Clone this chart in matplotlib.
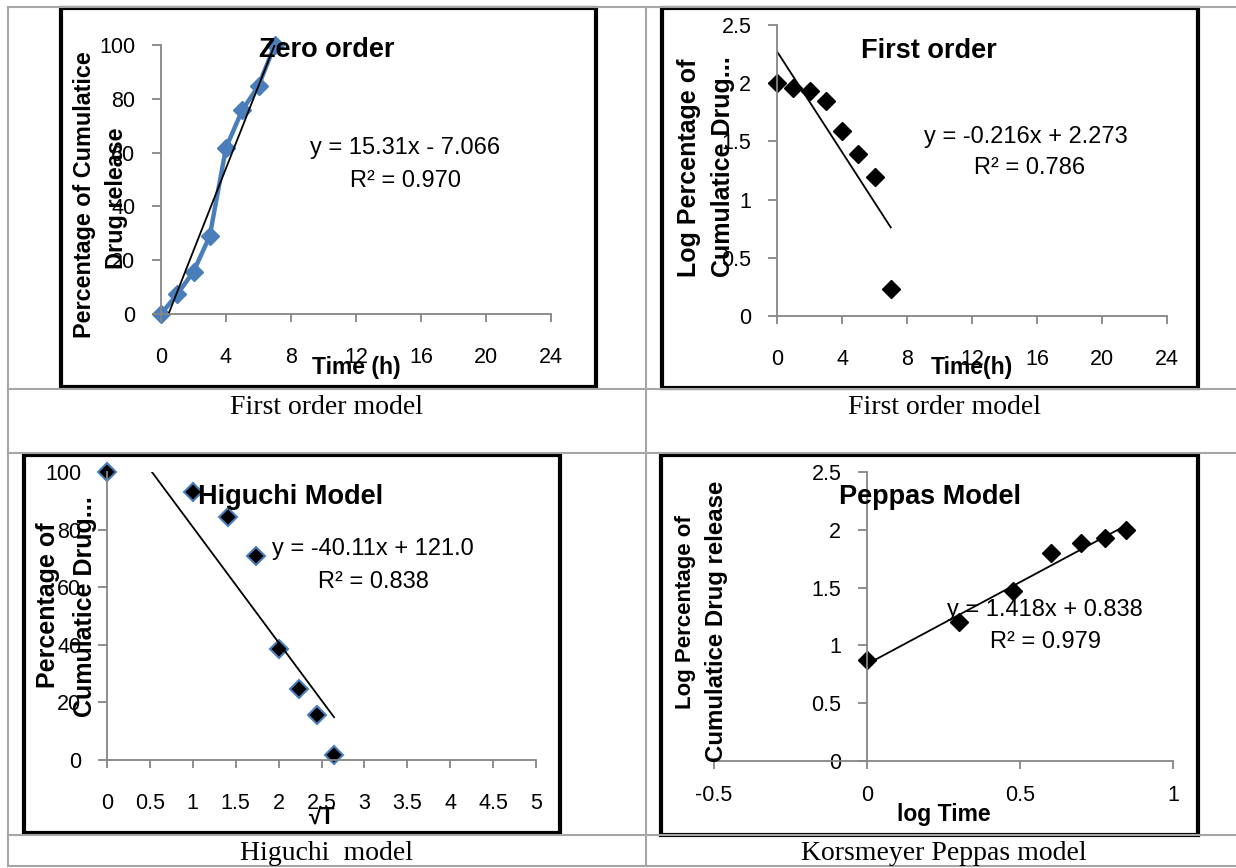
import numpy as np
import matplotlib
matplotlib.use("Agg")
from matplotlib import pyplot as plt
from matplotlib import patches

# release data
time_h = [0, 1, 2, 3, 4, 5, 6, 7]
zero_release = [0, 7.4, 15.7, 29.0, 61.8, 75.8, 84.8, 100.0]
first_log = [2.0, 1.96, 1.93, 1.85, 1.59, 1.39, 1.19, 0.235]
sqrt_t = [0, 1, 1.414, 1.732, 2.0, 2.236, 2.449, 2.646]
higuchi_rel = [100, 92.9, 84.3, 70.9, 38.5, 24.6, 15.5, 1.8]
log_time = [0, 0.301, 0.477, 0.602, 0.699, 0.778, 0.845]
peppas_log = [0.87, 1.20, 1.47, 1.80, 1.89, 1.93, 2.00]

# trend lines (slope, intercept) as printed on the charts
zero_fit = (15.31, -7.066)
first_fit = (-0.216, 2.273)
higuchi_fit = (-40.11, 121.0)
peppas_fit = (1.418, 0.838)

W, H = 1236, 868
SANS = ['Liberation Sans', 'DejaVu Sans']
SERIF = ['Liberation Serif', 'DejaVu Serif']
GRAY = '#868686'
BLUE = '#4a7ebb'

plt.rcParams['font.family'] = SANS

fig = plt.figure(figsize=(W / 100, H / 100), dpi=100)


def fx(x):
	return x / W


def fy(y):
	return 1 - y / H


def make_axes(x0, y0, x1, y1, xpad=18):
	ax = fig.add_axes([fx(x0), fy(y1), (x1 - x0) / W, (y1 - y0) / H])
	ax.patch.set_alpha(0)
	for s in ['top', 'right']:
		ax.spines[s].set_visible(False)
	for s in ['left', 'bottom']:
		ax.spines[s].set_color(GRAY)
		ax.spines[s].set_linewidth(1.3)
	ax.tick_params(axis='both', direction='out', color=GRAY, width=1.3, labelsize=15.5)
	ax.tick_params(axis='x', length=5.5, pad=xpad)
	ax.tick_params(axis='y', length=6.5, pad=12)
	return ax


def put(x, y, s, size=17, bold=False, rot=0, family=SANS):
	fig.text(fx(x), fy(y), s, ha='center', va='center', fontsize=size, rotation=rot,
			 fontweight='bold' if bold else 'normal', family=family)


def trend(ax, fit, x0, x1):
	xs = np.array([x0, x1])
	ax.plot(xs, fit[0] * xs + fit[1], color='black', lw=1.3, zorder=2)


# table grid
grid_kw = dict(color='#a6a6a6', lw=1.5, transform=fig.transFigure)
for y in [7, 389, 453, 835, 866]:
	fig.add_artist(plt.Line2D([fx(8), 1], [fy(y), fy(y)], **grid_kw))
for x in [8, 646]:
	fig.add_artist(plt.Line2D([fx(x), fx(x)], [fy(7), fy(866)], **grid_kw))

# black chart frames
for x0, y0, x1, y1 in [(61, 8, 596, 387), (662, 8, 1198, 388), (24, 455, 560, 833), (661, 455, 1198, 835)]:
	fig.add_artist(patches.Rectangle((fx(x0), fy(y1)), (x1 - x0) / W, (y1 - y0) / H, fill=False,
									 edgecolor='black', lw=3, transform=fig.transFigure))

# zero order
ax1 = make_axes(161, 45, 551, 314)
ax1.set_xlim(0, 24)
ax1.set_ylim(0, 100)
ax1.set_xticks(range(0, 25, 4))
ax1.set_yticks(range(0, 101, 20))
ax1.plot(time_h, zero_release, color=BLUE, lw=3.2, marker='D', ms=9.5, mfc=BLUE, mec=BLUE, clip_on=False, zorder=1)
trend(ax1, zero_fit, 0, 7)
put(327, 50, 'Zero order', 19.5, True)
put(405, 148, 'y = 15.31x - 7.066')
put(405, 181, 'R² = 0.970')
put(85, 195, 'Percentage of Cumulatice', 16.8, True, 90)
put(117, 198, 'Drug release', 16.8, True, 90)
put(356, 368, 'Time (h)', 16.5, True)

# first order
ax2 = make_axes(777, 25, 1167, 316)
ax2.set_xlim(0, 24)
ax2.set_ylim(0, 2.5)
ax2.set_xticks(range(0, 25, 4))
ax2.set_yticks([0, 0.5, 1, 1.5, 2, 2.5])
ax2.set_yticklabels(['0', '0.5', '1', '1.5', '2', '2.5'])
ax2.plot(time_h, first_log, 'D', color='black', ms=9.5, clip_on=False)
trend(ax2, first_fit, 0, 7)
put(929, 51, 'First order', 19.5, True)
put(1026, 137, 'y = -0.216x + 2.273')
put(1030, 168, 'R² = 0.786')
put(689, 168, 'Log Percentage of', 18, True, 90)
put(723, 167, 'Cumulatice Drug...', 18, True, 90)
put(972, 368, 'Time(h)', 16.5, True)

# higuchi
ax3 = make_axes(107, 472, 536, 760)
ax3.set_xlim(0, 5)
ax3.set_ylim(0, 100)
ax3.set_xticks(np.arange(0, 5.01, 0.5))
ax3.set_xticklabels(['0', '0.5', '1', '1.5', '2', '2.5', '3', '3.5', '4', '4.5', '5'])
ax3.set_yticks(range(0, 101, 20))
ax3.plot(sqrt_t, higuchi_rel, 'D', mfc='black', mec=BLUE, mew=1.5, ms=9.5, clip_on=False)
trend(ax3, higuchi_fit, 0, 2.646)
put(291, 497, 'Higuchi Model', 19.5, True)
put(373, 549, 'y = -40.11x + 121.0')
put(373, 582, 'R² = 0.838')
put(48, 605, 'Percentage of', 18, True, 90)
put(85, 607, 'Cumulatice Drug...', 18, True, 90)
put(322, 817, '√T', 16.5, True)

# peppas
ax4 = make_axes(714, 472, 1173, 761, xpad=12)
ax4.set_xlim(-0.5, 1)
ax4.set_ylim(0, 2.5)
ax4.spines['left'].set_position(('data', 0))
ax4.set_xticks([-0.5, 0, 0.5, 1])
ax4.set_xticklabels(['-0.5', '0', '0.5', '1'])
ax4.set_yticks([0, 0.5, 1, 1.5, 2, 2.5])
ax4.set_yticklabels(['0', '0.5', '1', '1.5', '2', '2.5'])
ax4.plot(log_time, peppas_log, 'D', color='black', ms=9.5, clip_on=False)
trend(ax4, peppas_fit, 0, 0.845)
put(930, 497, 'Peppas Model', 19.5, True)
put(1045, 610, 'y = 1.418x + 0.838')
put(1045, 642, 'R² = 0.979')
put(686, 612, 'Log Percentage of', 16, True, 90)
put(717, 621, 'Cumulatice Drug release', 17.3, True, 90)
put(944, 815, 'log Time', 16.5, True)

# captions
put(327, 407, 'First order model', 20, family=SERIF)
put(944, 407, 'First order model', 20, family=SERIF)
put(327, 853, 'Higuchi  model', 20, family=SERIF)
put(944, 853, 'Korsmeyer Peppas model', 20, family=SERIF)

fig.savefig('out.png', dpi=100)
